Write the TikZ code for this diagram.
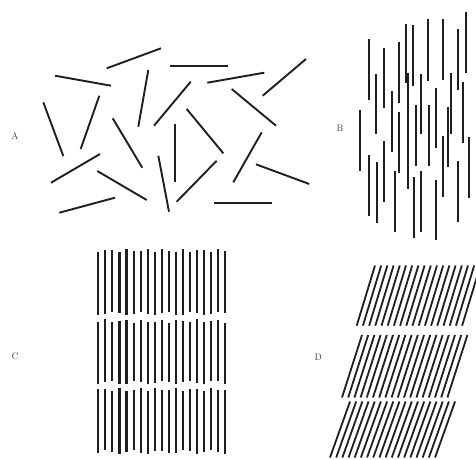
\documentclass[tikz,border=0pt]{standalone}
\begin{document}
\begin{tikzpicture}[x=1pt,y=-1pt,
  stick/.style={line width=1.9pt, black!88},
  bar/.style={line width=2.1pt, black!88},
  lbl/.style={font=\fontsize{9.5}{10}\selectfont, text=black!75, inner sep=0pt}]
\useasboundingbox (0,0) rectangle (476,459);
\fill[white] (0,0) rectangle (476,459);
\clip (0,0) rectangle (476,459);
% Panel A
\foreach \a/\b/\c/\d in {
 106.7/68.3/161/48.3, 170/65.7/228.3/65.7, 55/75.7/111/85.7,
 148.3/70/138.3/126.7, 207.3/82.7/264.3/72.7, 306/59/262.7/95.7,
 190.7/81.7/154/125.7, 231.7/89/276/125.7, 43.3/102.3/63.3/156,
 99.3/95.7/80.7/149, 112.7/118.3/142.3/167.7, 186.7/109/223.3/153.3,
 175/124.3/175/182.3, 261.7/132.3/233.3/182.3, 100/154/51/182.7,
 97.3/171/146.7/200, 158.3/155.7/169/211.7, 216.7/160.7/176.7/201.7,
 256/164.3/309.3/184, 59.3/212.7/115/197.7, 214/202.7/271.7/202.7}
  \draw[stick] (\a,\b) -- (\c,\d);
\node[lbl] (labA) at (15,135.7) {A};
% Panel B
\foreach \x/\t/\b in {
 368.7/39.3/100, 384/47.7/108.3, 376.3/74.3/134, 399/41.7/102.7,
 406/24/83.3, 413.3/25/86, 428/19.3/80.7, 443.3/19.3/80,
 466/11.7/72.7, 458.3/29.3/90, 408.3/73.3/133.3, 420.7/74/134.3,
 391.7/90.7/151.7, 399/111.7/173.3, 407.7/127.3/189, 416/105/165.7,
 428.7/105/165.7, 436/88.3/148.3, 451/73.3/134, 448.3/106.7/167.3,
 463.3/81.7/142.7, 443.3/136/196.7, 360/110/170.7, 369.3/155/215.7,
 376.7/162.3/222.7, 384.3/141/201.7, 395/171/231.7, 414/176.7/237.7,
 421/170.7/231.7, 436/180/240, 458.3/160.7/221.7, 469/136.7/198.3}
  \draw[stick] (\x,\t) -- (\x,\b);
\node[lbl] (labB) at (340,128.3) {B};
% Panel C
\foreach \r/\yt/\yb in {1/250.5/313.5, 2/321/382.5, 3/389.5/452}
  \foreach \i in {0,...,18} {
    \pgfmathsetmacro{\xx}{98.3+7.05*\i}
    \pgfmathsetmacro{\dt}{1.6*sin(\i*137+\r*71)}
    \pgfmathsetmacro{\db}{1.8*sin(\i*97+\r*53)}
    \draw[bar] (\xx,\yt+\dt) -- (\xx,\yb+\db);
  }
\node[lbl] (labC) at (15,356.7) {C};
% Panel D
\foreach \xt/\yt/\xb/\yb/\s in {375/265.5/356.7/325.7/6.2, 362/335/342/397.5/6.2, 350/401.5/330/457.5/6.18}
  \foreach \i in {0,...,17} {
    \draw[bar, line width=1.8pt] (\xt+\s*\i,\yt) -- (\xb+\s*\i,\yb);
  }
\node[lbl] (labD) at (318.3,357.3) {D};
\end{tikzpicture}
\end{document}
